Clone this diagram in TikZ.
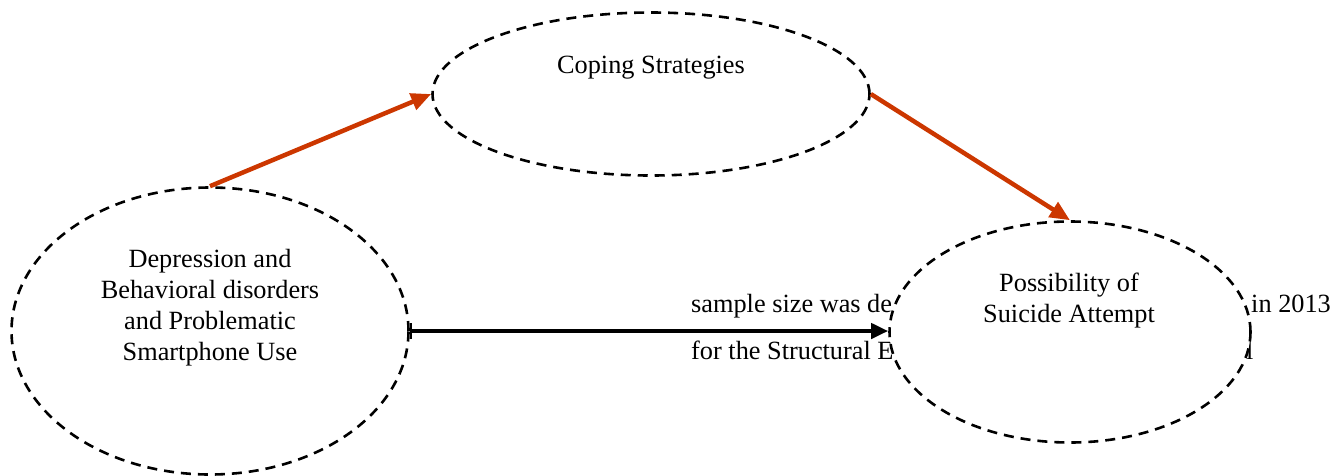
\documentclass[tikz,border=0pt]{standalone}
\usepackage{fontspec}
\setmainfont{Liberation Serif}
\usetikzlibrary{shapes.geometric,arrows.meta}
\definecolor{arrowred}{RGB}{204,55,0}
\begin{document}
\begin{tikzpicture}[x=1pt,y=-1pt,
  txt/.style={font=\fontsize{26.3}{31}\selectfont, inner sep=0pt, align=center},
  bgtxt/.style={font=\fontsize{26.3}{30.5}\selectfont, inner sep=0pt, anchor=base west},
  oval/.style={ellipse, draw=black, fill=white, line width=2.6pt, dash pattern=on 10pt off 7pt, inner sep=0pt},
  redarrow/.style={draw=arrowred, line width=4.5pt, -{Triangle[length=20pt,width=17pt]}},
  blackarrow/.style={draw=black, line width=4pt, {Bar[width=16pt,line width=2.5pt]}-{Triangle[length=17pt,width=15pt]}}
]
\useasboundingbox (0,0) rectangle (1344,475);
% text lying behind the right ellipse
\node[bgtxt] (bg1) at (691,312) {sample size was de};
\node[bgtxt] (bg2) at (1251,312) {in 2013};
\node[bgtxt] (bg3) at (691,359) {for the Structural E};
\node[bgtxt] (bg4) at (1246,359) {l};
% ellipses
\node[oval, minimum width=397pt, minimum height=287pt] (L) at (210,331) {};
\node[oval, minimum width=437pt, minimum height=163pt] (T) at (651,94) {};
\node[oval, minimum width=361pt, minimum height=221pt] (R) at (1070,332) {};
% labels
\node[txt, anchor=base] (Tt) at (651,73) {Coping Strategies};
\node[txt, anchor=base] (Lt) at (210,360.5) {Depression and\\Behavioral disorders\\and Problematic\\Smartphone Use};
\node[txt, anchor=base] (Rt) at (1069,322) {Possibility of\\Suicide Attempt};
% connectors
\draw[redarrow] (L.north) -- (T.west);
\draw[redarrow] (T.east) -- (R.north);
\draw[blackarrow] (L.east) -- (L.east -| R.west);
\end{tikzpicture}
\end{document}
